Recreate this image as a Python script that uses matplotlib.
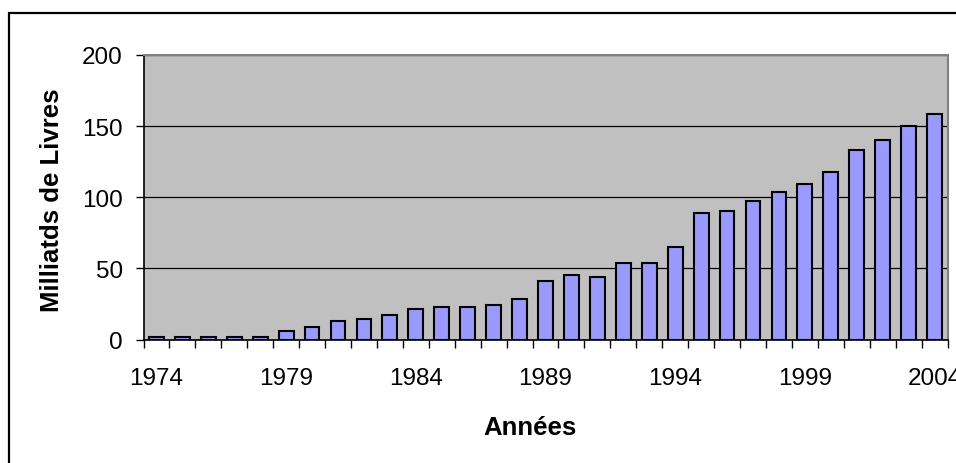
import matplotlib
matplotlib.use("Agg")
import matplotlib.pyplot as plt
from matplotlib.patches import Rectangle
import numpy as np

years = list(range(1974, 2005))
values = [1.8, 1.8, 1.8, 1.8, 1.8, 5.8, 8.6, 12.8, 14.4, 17.0,
          21.3, 22.7, 22.7, 24.3, 28.3, 41.2, 45.5, 44.2, 54.0, 54.0,
          65.3, 89.0, 90.5, 97.7, 103.4, 109.0, 117.5, 133.0, 140.0, 150.0, 158.3]
tick_years = [1974, 1979, 1984, 1989, 1994, 1999, 2004]
ylabel = "Milliatds de Livres"
xlabel = "Années"

plt.rcParams['font.family'] = ['Liberation Sans', 'DejaVu Sans']

W, H = 956, 464
fig = plt.figure(figsize=(W / 100, H / 100), dpi=100)
fig.patch.set_facecolor('white')

left, right, top, bottom = 143.5, 947.5, 56, 340.5
ax = fig.add_axes([left / W, 1 - bottom / H, (right - left) / W, (bottom - top) / H])
ax.set_facecolor('#C0C0C0')

x = np.arange(len(years))
ax.bar(x, values, width=0.571, color='#9999FF', edgecolor='black', linewidth=1.5, zorder=3)

ax.set_xlim(-0.5, len(years) - 0.5)
ax.set_ylim(0, 200)
ax.set_yticks([0, 50, 100, 150, 200])
ax.yaxis.grid(True, color='black', linewidth=0.9, zorder=1)
ax.set_axisbelow(True)

# x ticks: labels at category centres, tick marks at boundaries
ax.set_xticks([years.index(y) for y in tick_years])
ax.set_xticklabels([str(y) for y in tick_years])
ax.set_xticks(np.arange(-0.5, len(years), 1.0), minor=True)
ax.tick_params(axis='x', which='major', length=0, pad=20, labelsize=17.5)
ax.tick_params(axis='x', which='minor', length=6, width=1, direction='out', color='black')
ax.tick_params(axis='y', which='major', length=6, width=1, direction='out', pad=9, labelsize=17.5)

for s in ['left', 'bottom']:
    ax.spines[s].set_color('black')
    ax.spines[s].set_linewidth(1.2)
for s in ['top', 'right']:
    ax.spines[s].set_color('#808080')
    ax.spines[s].set_linewidth(1.5)

fig.text(52 / W, 1 - 200 / H, ylabel, rotation=90, fontsize=18.5, fontweight='bold',
         ha='center', va='center')
fig.text(530 / W, 1 - 428 / H, xlabel, fontsize=18.5, fontweight='bold',
         ha='center', va='center')

# outer chart frame (cropped at right and bottom)
fig.patches.append(Rectangle((9 / W, -0.5), 2.0, 1.5 - 14 / H, transform=fig.transFigure,
                             fill=False, edgecolor='black', linewidth=1.6, clip_on=False))

fig.savefig('out.png', dpi=100)
